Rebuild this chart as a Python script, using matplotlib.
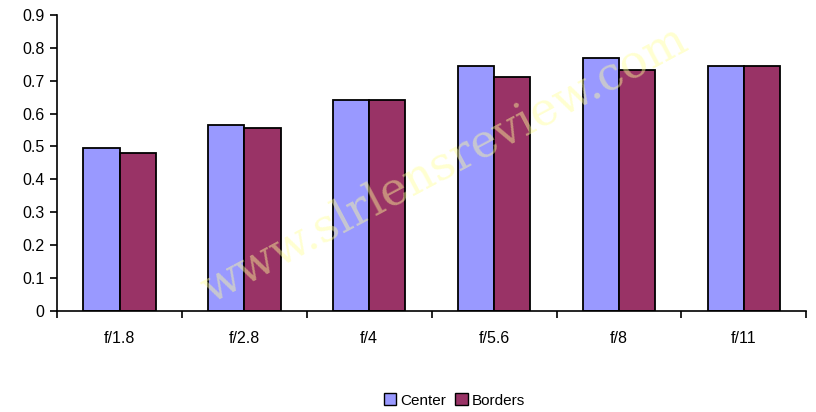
import numpy as np
import matplotlib
matplotlib.use("Agg")
import matplotlib.pyplot as plt
from matplotlib.patches import Patch

apertures = ['f/1.8', 'f/2.8', 'f/4', 'f/5.6', 'f/8', 'f/11']
center = [0.495, 0.565, 0.64, 0.745, 0.77, 0.745]
borders = [0.48, 0.555, 0.64, 0.712, 0.732, 0.745]

plt.rcParams['font.family'] = ['Liberation Sans', 'DejaVu Sans']

fig = plt.figure(figsize=(8.16, 4.12), dpi=100)
ax = fig.add_axes([0.07, 0.245, 0.918, 0.719])

x = np.arange(len(apertures))
w = 0.29
ax.bar(x - w/2, center, w, color='#9999FF', edgecolor='black', linewidth=1.3)
ax.bar(x + w/2, borders, w, color='#993366', edgecolor='black', linewidth=1.3)

ax.set_xlim(-0.5, len(apertures) - 0.5)
ax.set_ylim(0, 0.9)
ax.set_yticks(np.arange(0, 0.91, 0.1))
ax.set_yticklabels(['0'] + ['%.1f' % v for v in np.arange(0.1, 0.91, 0.1)])
ax.set_xticks(x)
ax.set_xticklabels(apertures)
ax.set_xticks(np.arange(-0.5, len(apertures)), minor=True)
ax.tick_params(axis='x', which='major', length=0, pad=14, labelsize=11.5)
ax.tick_params(axis='x', which='minor', length=5, width=1.2)
ax.tick_params(axis='y', length=5, width=1.2, labelsize=11.5, pad=4)
for s in ['top', 'right']:
    ax.spines[s].set_visible(False)
ax.spines['left'].set_linewidth(1.2)
ax.spines['bottom'].set_linewidth(1.2)

# watermark
fig.text(0.545, 0.6, 'www.slrlensreview.com', fontsize=33, family='DejaVu Serif',
         color='#FFFF99', alpha=0.45, rotation=28, ha='center', va='center', zorder=10)

handles = [Patch(facecolor='#9999FF', edgecolor='black'),
           Patch(facecolor='#993366', edgecolor='black')]
fig.legend(handles, ['Center', 'Borders'], loc='center', bbox_to_anchor=(0.557, 0.028),
           ncol=2, frameon=False, fontsize=11, handlelength=0.8, handleheight=0.8,
           handletextpad=0.3, columnspacing=0.6)

fig.savefig('out.png', dpi=100)
